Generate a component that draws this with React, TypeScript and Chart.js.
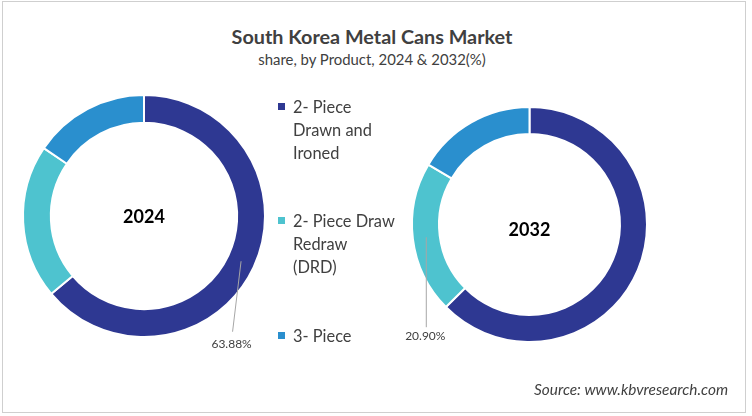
import React, { useEffect, useRef } from "react";
import { Chart, registerables } from "chart.js";

Chart.register(...registerables);

const categories = ["2- Piece Drawn and Ironed", "2- Piece Draw Redraw (DRD)", "3- Piece"];
const legendLines = [["2- Piece", "Drawn and", "Ironed"], ["2- Piece Draw", "Redraw", "(DRD)"], ["3- Piece"]];
const years = ["2024", "2032"];
const values2024 = [63.88, 20.6, 15.52];
const values2032 = [62.6, 20.9, 16.5];
const labeledIndex = [0, 1];
const colors = ["#2E3892", "#4EC3CF", "#2A8FCE"];

const FONT = "Lato, 'Open Sans', sans-serif";
const TEXT = "#404040";

type Cfg = {
  year: string;
  values: number[];
  labeled: number;
  padding: { left: number; top: number; right: number; bottom: number };
  centerDy: number;
  lineEnd: [number, number];
  textDy: number;
};

const configs: Cfg[] = [
  {
    year: years[0],
    values: values2024,
    labeled: labeledIndex[0],
    padding: { left: 22, top: 94, right: 486, bottom: 78 },
    centerDy: 1,
    lineEnd: [-8.5, 70.5],
    textDy: 83,
  },
  {
    year: years[1],
    values: values2032,
    labeled: labeledIndex[1],
    padding: { left: 411, top: 106, right: 104, bottom: 73 },
    centerDy: 6,
    lineEnd: [0, 90],
    textDy: 99,
  },
];

function Donut({ cfg }: { cfg: Cfg }) {
  const ref = useRef<HTMLCanvasElement>(null);
  useEffect(() => {
    const labelPlugin = {
      id: "donutLabels",
      afterDraw(chart: any) {
        const ctx = chart.ctx;
        const area = chart.chartArea;
        const cx = (area.left + area.right) / 2;
        const cy = (area.top + area.bottom) / 2;
        ctx.save();
        ctx.fillStyle = "#000";
        ctx.font = `bold 18px ${FONT}`;
        ctx.textAlign = "center";
        ctx.textBaseline = "middle";
        ctx.fillText(cfg.year, cx, cy + cfg.centerDy);
        const arc = chart.getDatasetMeta(0).data[cfg.labeled];
        const p = arc.tooltipPosition();
        ctx.strokeStyle = "#A6A6A6";
        ctx.lineWidth = 1;
        ctx.beginPath();
        ctx.moveTo(p.x, p.y);
        ctx.lineTo(p.x + cfg.lineEnd[0], p.y + cfg.lineEnd[1]);
        ctx.stroke();
        ctx.fillStyle = TEXT;
        ctx.font = `12px ${FONT}`;
        const v = cfg.values[cfg.labeled].toFixed(2) + "%";
        ctx.fillText(v, p.x + cfg.lineEnd[0] - 1, p.y + cfg.textDy);
        ctx.restore();
      },
    };
    const chart = new Chart(ref.current as HTMLCanvasElement, {
      type: "doughnut",
      data: {
        labels: categories,
        datasets: [
          {
            data: cfg.values,
            backgroundColor: colors,
            borderColor: "#ffffff",
            borderWidth: 2,
          },
        ],
      },
      options: {
        responsive: false,
        animation: false,
        cutout: "77%",
        layout: { padding: cfg.padding },
        plugins: { legend: { display: false }, tooltip: { enabled: false } },
      },
      plugins: [labelPlugin],
    });
    return () => chart.destroy();
  }, [cfg]);
  return (
    <canvas
      ref={ref}
      width={752}
      height={416}
      style={{ position: "absolute", left: 0, top: 0, width: 752, height: 416 }}
    />
  );
}

export default function App() {
  const legendTops = [95, 209, 324];
  return (
    <div
      style={{
        position: "fixed",
        left: 0,
        top: 0,
        width: 752,
        height: 416,
        background: "#fff",
        fontFamily: FONT,
        color: TEXT,
        overflow: "hidden",
      }}
    >
      <div
        style={{
          position: "absolute",
          left: 2,
          top: 1,
          width: 742,
          height: 410,
          border: "1px solid #CFCFCF",
        }}
      />
      <div
        style={{
          position: "absolute",
          left: 0,
          width: 744,
          top: 24,
          textAlign: "center",
          fontSize: 19.8,
          fontWeight: 700,
          lineHeight: "24px",
        }}
      >
        South Korea Metal Cans Market
      </div>
      <div
        style={{
          position: "absolute",
          left: 0,
          width: 744,
          top: 49,
          textAlign: "center",
          fontSize: 14.9,
          lineHeight: "20px",
        }}
      >
        share, by Product, 2024 &amp; 2032(%)
      </div>
      {configs.map((c) => (
        <Donut key={c.year} cfg={c} />
      ))}
      {legendLines.map((lines, i) => (
        <div key={i} style={{ position: "absolute", left: 278, top: legendTops[i] }}>
          <div
            style={{
              position: "absolute",
              left: 0,
              top: 8,
              width: 7,
              height: 7,
              background: colors[i],
            }}
          />
          <div style={{ position: "absolute", left: 15, top: 0, fontSize: 16.4, lineHeight: "23px", whiteSpace: "nowrap" }}>
            {lines.map((l, j) => (
              <div key={j}>{l}</div>
            ))}
          </div>
        </div>
      ))}
      <div
        style={{
          position: "absolute",
          right: 24,
          top: 379,
          fontSize: 15.4,
          fontStyle: "italic",
          lineHeight: "20px",
        }}
      >
        Source: www.kbvresearch.com
      </div>
    </div>
  );
}
